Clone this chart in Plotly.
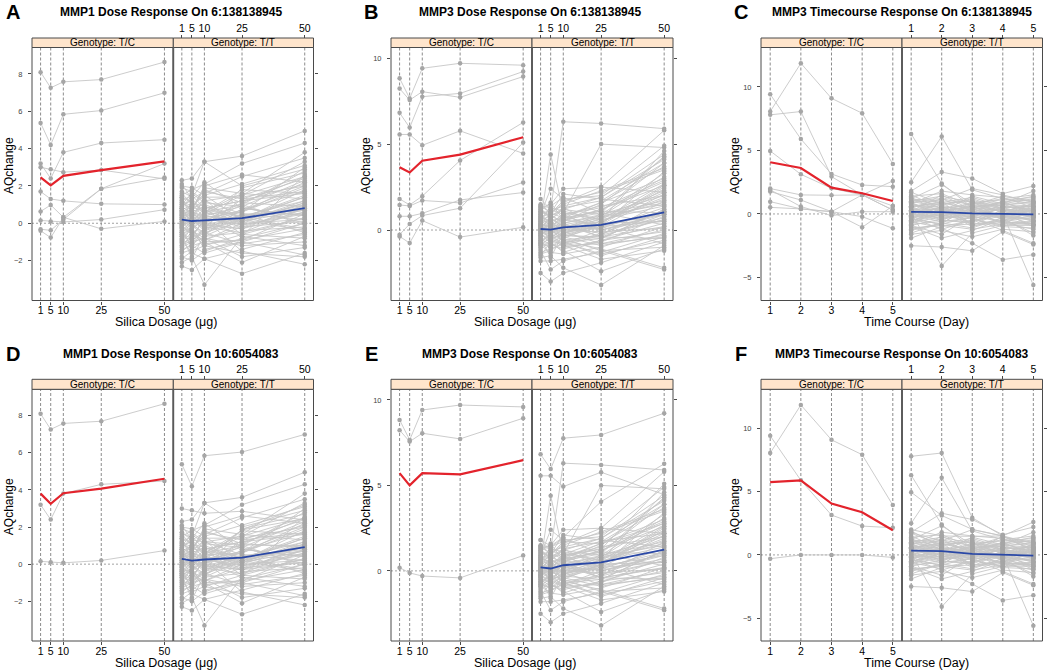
import plotly.graph_objects as go

W, H = 1050, 670
def fx(p): return p / W
def fy(p): return 1 - p / H

# ---------------- data ----------------
dose_levels = [1, 5, 10, 25, 50]
day_levels = [1, 2, 3, 4, 5]

# MMP1 dose response, SNP 6:138138945, genotype T/C (individual samples)
mmp1_tc_A = [
    [8.1, 7.26, 7.58, 7.7, 8.64],
    [5.38, 4.2, 5.84, 6.04, 6.99],
    [3.2, 2.4, 3.8, 4.3, 4.48],
    [3.0, 2.9, 2.74, 2.85, 2.38],
    [1.7, 1.3, 1.2, 1.04, 1.0],
    [0.63, 0.98, 0.32, 1.85, 2.45],
    [0.15, 0.1, 0.07, 0.2, 0.73],
    [-0.32, -0.38, 0.2, 1.85, 3.2],
    [-0.4, -0.77, 0.32, -0.3, 0.1],
]
# MMP1 dose response, genotype T/T samples (common cloud)
mmp1_tt_cloud = [
    [2.3, 2.4, 3.3, 3.6, 4.95], [1.5, 1.8, 2.1, 3.2, 4.3], [1.2, 0.9, 1.6, 2.5, 3.5],
    [0.8, 1.5, 3.3, 2.0, 2.9], [0.5, 0.2, -0.3, 1.9, 2.7], [1.9, 1.7, 1.2, 1.5, 2.5],
    [0.3, 0.6, 0.4, 0.9, 2.3], [-0.4, 0.1, 0.8, 1.2, 2.1], [1.0, 1.2, 0.5, 0.6, 1.9],
    [-0.8, -0.3, 0.2, 0.7, 1.7], [0.6, 0.3, 1.0, 0.3, 1.5], [-1.2, -0.9, -0.4, 0.2, 1.4],
    [0.1, -0.2, 0.6, 1.6, 1.3], [1.4, 1.1, 0.9, 0.1, 1.1], [-0.2, 0.4, -0.1, -0.3, 1.0],
    [0.4, 0.8, 1.8, 1.1, 0.9], [-1.5, -1.1, -0.7, -0.5, 0.8], [0.9, 0.5, 0.1, 0.4, 0.7],
    [-0.6, -0.8, 0.3, -0.1, 0.6], [0.2, 0.0, -0.6, 0.5, 0.5], [1.7, 1.4, 2.2, 0.8, 0.4],
    [-1.0, -0.5, -1.2, -0.6, 0.3], [0.7, 1.0, 0.7, 0.0, 0.2], [-0.1, -0.6, -0.9, -0.2, 0.1],
    [-1.8, -2.0, -1.5, -0.8, 0.0], [0.0, 0.3, 0.0, 1.0, -0.1], [1.1, 0.7, 1.3, -0.4, -0.2],
    [-0.3, -1.3, -0.2, 0.3, -0.3], [-2.1, -1.8, -3.3, -0.7, 2.6], [-0.9, -1.6, -1.9, -1.4, -0.5],
    [0.5, -0.1, -0.5, -1.1, -0.6], [-0.5, -0.4, -1.0, -2.1, -0.7], [-1.3, -1.0, -0.8, -1.8, -1.3],
    [-2.3, -2.5, -1.9, -2.7, -1.6], [-0.7, -0.2, -1.4, -1.0, -1.7], [0.3, -0.7, 0.2, -1.5, -2.2],
    [1.3, 0.6, 0.3, 0.6, 3.0], [-0.2, 0.2, 1.4, 1.4, 2.0], [0.6, 0.9, 0.6, 1.8, 1.6],
    [-0.4, -0.3, 0.4, 0.1, 1.2], [0.2, 0.5, -0.3, 0.2, 0.9], [1.0, 1.6, 1.1, 0.9, 0.0],
    [-0.1, 0.1, 0.0, -0.3, 0.6], [0.8, -0.1, -0.7, 0.2, 1.8], [-1.1, -0.8, -0.3, 0.5, 0.2],
    [0.1, 0.7, 2.0, 2.6, 2.2], [2.0, 1.9, 1.5, 0.2, -0.4], [-0.6, -1.9, -0.6, 0.8, 0.4],
    [0.4, 0.0, 0.8, -0.6, -0.8], [-1.4, -1.2, -1.0, -0.9, 0.5],
    [0.9, 1.3, 1.7, 1.3, 2.4], [-0.5, 0.0, 0.5, 1.5, 3.3], [1.6, 1.0, 0.3, -0.2, 0.8],
    [-1.6, -1.4, -0.9, 0.0, 1.1], [0.3, 0.9, 1.5, 2.1, 3.1], [-0.2, -0.6, 0.1, 0.6, 2.2],
    [1.2, 1.5, 0.8, 1.2, 1.6], [-0.9, -1.1, -0.2, -0.5, 0.3], [0.6, 0.1, -0.1, 0.4, 1.2],
    [0.0, -0.4, -0.8, -1.2, -1.0], [2.1, 1.3, 0.6, 1.0, 2.8], [-1.9, -1.5, -1.2, -1.6, -1.8],
    [0.7, 0.4, 1.2, 0.5, -0.5], [-0.3, 0.6, 0.9, 0.3, 1.4], [1.4, 0.2, -0.4, 0.7, 2.0],
    [-0.7, -0.9, -0.5, 0.1, 0.7], [0.2, 1.2, 0.6, -0.1, 0.5], [-1.2, -0.6, 0.1, 1.1, 2.5],
    [0.5, -0.3, -1.1, -0.9, -0.3], [1.1, 0.8, 1.9, 1.6, 3.8], [-0.1, 0.5, 0.2, -0.7, -1.2],
    [0.8, 0.0, 0.4, 0.2, 1.0], [-0.5, -1.2, -1.6, -1.0, 0.0], [0.4, 0.7, -0.2, 1.3, 1.7],
    [-1.0, -0.2, 0.7, 0.4, 0.8],
]
mmp1_tc_D_idx = [0, 2, 6]

# MMP3 dose response, SNP 6:138138945, genotype T/C
mmp3_tc_B = [
    [8.83, 7.66, 9.41, 9.7, 9.59],
    [8.23, 7.56, 8.05, 7.72, 8.93],
    [6.82, 5.96, 7.76, 7.95, 9.22],
    [5.56, 5.56, 4.93, 5.77, 4.46],
    [1.81, 1.46, 1.97, 4.05, 6.26],
    [1.46, 1.4, 1.72, 1.58, 2.77],
    [0.8, 0.8, 0.97, 1.75, 2.18],
    [-0.27, 0.35, 0.84, 1.27, 5.09],
    [-0.37, -0.76, 0.55, -0.41, 0.16],
]
mmp3_tc_E_extra = [0.19, -0.12, -0.3, -0.41, 0.9]
mmp3_tt_cloud = [
    [1.8, 1.2, 6.3, 6.2, 5.9], [0.5, 4.4, 1.0, 5.0, 4.8], [1.3, 1.5, 2.4, 2.5, 5.8],
    [0.9, 2.4, 1.8, 2.0, 4.9], [0.2, 0.6, 1.2, 1.9, 4.4], [1.1, 0.8, 0.5, 1.5, 4.2],
    [-0.3, 0.2, 0.7, 1.1, 3.9], [0.7, 1.0, 1.5, 2.3, 3.6], [-0.8, -0.5, 0.1, 0.9, 3.3],
    [0.4, 0.1, 0.9, 1.3, 2.9], [1.4, 1.3, 1.1, 0.6, 2.7], [-1.1, -0.7, -0.4, 0.4, 2.5],
    [0.0, 0.4, 0.3, 0.7, 2.3], [0.8, 0.5, 0.8, 0.2, 2.1], [-0.5, -0.9, -0.2, 0.5, 1.9],
    [0.3, -0.2, -0.6, -0.3, 1.7], [1.0, 0.9, 0.4, 0.8, 1.5], [-0.2, 0.0, 0.0, 0.1, 1.3],
    [0.6, 0.3, -0.3, -0.5, 1.2], [-1.3, -1.1, -0.8, 0.0, 1.0], [0.1, -0.3, 0.6, 0.3, 0.9],
    [-0.6, -0.4, -1.0, -0.7, 0.8], [1.2, 0.7, 0.2, -0.2, 0.6], [-0.1, 0.2, -0.5, 0.4, 0.5],
    [0.5, 1.4, 1.9, 1.0, 0.3], [-0.9, -1.3, -1.4, -1.0, 0.2], [0.2, -0.6, -0.1, -0.8, 0.0],
    [-1.8, -1.8, -1.7, -1.3, -0.2], [0.9, 0.1, -0.7, -1.5, -0.4], [-0.4, -0.1, 0.3, -0.4, -0.5],
    [-2.5, -3.0, -2.5, -1.9, -0.7], [-1.6, -1.5, -2.2, -3.2, -0.9], [0.3, -0.8, -1.2, -2.4, -1.1],
    [-0.7, -0.2, -0.9, -1.7, -1.2], [-1.2, -2.3, -1.8, -1.2, -2.3], [0.6, 0.8, 1.3, 0.2, -0.8],
    [-0.2, 0.5, 0.7, 1.6, 3.0], [0.1, -0.1, 0.4, 0.9, 2.0], [1.5, 1.0, 2.1, 1.8, 1.4],
    [-0.3, -0.5, -0.3, 0.3, 3.4], [0.4, 0.6, -0.8, -0.2, 1.1], [-0.8, -1.0, -0.6, -1.1, -2.2],
    [0.7, 0.3, 0.2, 0.6, 4.6], [0.0, -0.4, 0.9, 0.0, 0.7], [-1.5, -0.7, -1.3, -0.6, 0.4],
    [1.1, 1.6, 0.6, 1.2, 2.6], [-0.1, 0.9, 1.6, 2.5, 2.2], [0.2, 0.0, -0.4, -0.9, -0.3],
    [-0.5, -1.6, -0.2, 0.7, 1.6], [0.8, 0.4, 0.0, -0.1, 0.1],
    [0.3, 0.2, 0.8, 1.6, 3.7], [-0.6, -0.3, 0.5, 1.2, 2.8], [1.0, 1.1, 1.4, 1.9, 4.1],
    [0.1, 0.7, 0.2, 0.5, 1.8], [-1.0, -0.6, -0.9, -0.3, 0.6], [0.5, -0.1, 0.0, 0.8, 3.1],
    [-0.4, 0.3, 1.0, 0.6, 1.4], [1.3, 0.6, -0.2, 0.3, 2.4], [-0.2, -0.8, -1.1, -0.6, -0.1],
    [0.7, 1.2, 0.9, 1.4, 2.0], [-1.4, -1.2, -0.7, -0.5, 1.2], [0.2, 0.0, 0.6, 1.0, 4.3],
    [0.9, 0.4, -0.5, -1.2, -1.0], [-0.8, -0.2, 0.3, 0.0, 0.9], [0.4, 1.0, 1.7, 2.2, 3.5],
    [0.0, -0.5, -0.2, 0.4, 2.6], [-0.3, 0.1, -0.7, -1.4, -0.6], [1.2, 0.8, 1.2, 0.9, 1.7],
    [-0.7, -1.0, -0.4, 0.2, 1.1], [0.6, 0.0, 0.4, -0.4, 0.2], [-0.1, 0.6, 1.3, 1.7, 3.9],
    [0.3, -0.3, -0.9, -0.8, -0.4], [-0.9, -0.4, 0.0, 0.5, 2.2], [1.4, 1.0, 0.7, 1.1, 1.0],
    [0.1, 0.3, -0.1, 0.2, 0.5],
]

# MMP3 timecourse, SNP 6:138138945, genotype T/C
mmp3t_tc_C = [
    [9.42, 5.9, 3.15, 2.28, 2.15],
    [8.06, 11.86, 9.1, 7.93, 3.94],
    [7.8, 8.06, 2.94, 1.5, 0.63],
    [4.96, 3.12, 2.02, 1.5, 0.31],
    [2.0, 1.5, 1.47, 1.5, 2.6],
    [1.9, 0.58, -0.13, 0.18, 0.18],
    [1.76, 1.1, 0.18, -1.05, 0.63],
    [0.97, 0.4, 0.18, -0.21, -1.13],
    [0.52, 0.4, 0.18, 1.5, 0.31],
]
mmp3t_tc_F_extra = [-0.3, 0.0, 0.0, 0.0, -0.2]
mmp3t_tt_cloud = [
    [6.3, 2.4, 0.5, 0.2, -0.3], [2.5, 6.1, 1.9, 1.2, 0.8], [1.8, 3.3, 2.8, 1.6, 2.2],
    [1.2, 2.3, 0.8, 0.9, 1.4], [0.9, 1.1, 2.0, 1.5, 0.9], [0.6, 0.9, 0.3, 1.0, 1.1],
    [1.5, 0.4, -0.2, 0.5, 0.6], [0.3, 0.7, 1.2, 0.4, 0.2], [-0.2, 0.2, 0.6, 0.8, 1.8],
    [0.0, -0.3, 0.1, -0.2, 0.4], [1.0, 1.4, 0.9, 0.1, -0.5], [-0.5, -0.1, -0.6, 0.3, 0.0],
    [0.4, 0.0, 0.4, -0.4, -0.2], [-0.8, -0.6, -0.3, -0.1, 0.3], [0.7, 0.5, -0.8, -0.6, -0.8],
    [-1.1, -0.9, -1.2, -0.8, -0.6], [0.2, -0.4, 0.0, 0.6, 0.7], [-0.3, 0.6, -0.4, -1.0, -1.1],
    [1.3, 0.1, 0.7, 0.2, -0.1], [-1.6, -1.3, -1.8, -1.2, -1.4], [-2.5, -2.6, -2.9, -1.4, -2.4],
    [0.1, -4.1, -1.5, -0.9, -0.9], [-0.6, -1.1, -2.3, -3.6, -3.2], [0.5, -0.2, 0.2, 0.0, -5.6],
    [-1.3, -0.7, 0.5, 0.7, 1.0], [0.8, 1.8, 1.5, 1.3, 0.5], [-0.1, 0.3, -1.0, -0.3, -1.7],
    [-0.9, -1.6, -0.1, 0.4, 0.1], [1.7, 0.8, 1.0, -0.5, -0.3], [-0.4, -0.8, 0.9, 1.1, 1.3],
    [0.6, -0.5, -0.7, 0.1, -1.0], [-1.9, -1.0, -0.5, -0.2, -0.4], [1.1, 1.2, 0.2, -0.7, -0.6],
    [-0.2, -0.1, 0.3, 0.3, 0.2], [0.3, 0.4, -0.3, -1.3, -2.3], [-0.7, 0.2, 1.4, 0.8, -0.2],
    [0.9, -0.3, -0.2, 0.0, 0.6], [-1.0, -1.9, -1.3, -0.4, -0.8], [0.0, 0.5, 0.6, -0.3, 0.9],
    [0.5, 1.0, -0.9, -0.7, -1.2],
    [0.8, 0.3, 0.5, 0.9, 0.2], [-0.4, 0.6, 0.2, -0.2, -0.5], [1.2, 0.9, 1.3, 0.6, 0.4],
    [0.1, -0.5, -0.6, 0.2, 0.8], [-0.7, -0.2, 0.4, 0.5, -0.1], [0.5, 1.2, 0.7, 1.4, 1.0],
    [-1.2, -0.8, -0.2, -0.6, -0.9], [0.3, 0.1, -0.3, 0.8, 1.2], [1.0, 0.5, 0.0, -0.3, 0.3],
    [-0.2, -0.9, -0.8, -0.5, 0.1], [0.6, 0.8, 1.1, 0.3, -0.2], [-0.9, -0.4, 0.1, 0.0, 0.5],
    [0.2, 0.4, 0.8, 1.2, 1.5], [0.9, -0.1, -0.4, -0.9, -0.7], [-0.5, 0.1, -0.1, 0.4, -0.3],
    [1.4, 1.6, 0.6, 0.7, 0.9], [-1.5, -0.7, -1.1, -0.3, 0.0], [0.0, 0.9, 0.4, -0.1, -0.8],
    [0.7, 0.2, 0.9, 0.5, 0.6], [-0.3, -1.2, -0.5, 0.6, 0.3], [0.4, -0.2, 0.6, -0.4, -1.5],
    [-0.6, 0.5, -0.9, 0.2, 0.7], [1.1, 0.7, 0.1, 1.0, 0.0], [-0.1, -0.6, 1.0, 0.1, -0.6],
    [0.2, 1.5, 0.3, -0.8, 0.4],
]

# group means (red = T/C, blue = T/T)
mean_A_tc = [2.46, 2.03, 2.54, 2.85, 3.32]
mean_A_tt = [0.2, 0.12, 0.15, 0.27, 0.81]
mean_B_tc = [3.65, 3.35, 4.03, 4.39, 5.4]
mean_B_tt = [0.06, 0.02, 0.15, 0.3, 1.03]
mean_C_tc = [4.07, 3.62, 2.07, 1.63, 1.02]
mean_C_tt = [0.16, 0.15, 0.05, 0.03, -0.03]
mean_D_tc = [3.8, 3.25, 3.82, 4.07, 4.6]
mean_D_tt = [0.28, 0.19, 0.25, 0.35, 0.92]
mean_E_tc = [5.72, 5.0, 5.72, 5.65, 6.48]
mean_E_tt = [0.21, 0.14, 0.33, 0.5, 1.24]
mean_F_tc = [5.75, 5.9, 4.06, 3.37, 1.95]
mean_F_tt = [0.34, 0.3, 0.08, 0.0, -0.05]

# genotype groupings for the second SNP (10:6054083)
mmp1_tc_D = [mmp1_tc_A[i] for i in mmp1_tc_D_idx]
mmp1_tt_D = mmp1_tt_cloud + [l for i, l in enumerate(mmp1_tc_A) if i not in mmp1_tc_D_idx]
mmp3_tc_E = [mmp3_tc_B[0], mmp3_tc_B[1], mmp3_tc_E_extra]
mmp3_tt_B = mmp3_tt_cloud + [mmp3_tc_E_extra]
mmp3_tt_E = mmp3_tt_cloud + mmp3_tc_B[2:]
mmp3t_tc_F = [mmp3t_tc_C[0], mmp3t_tc_C[1], mmp3t_tc_F_extra]
mmp3t_tt_C = mmp3t_tt_cloud + [mmp3t_tc_F_extra]
mmp3t_tt_F = mmp3t_tt_cloud + mmp3t_tc_C[2:]

dose_title = "Silica Dosage (\u03bcg)"
time_title = "Time Course (Day)"

panels = [
    dict(letter="A", title="MMP1 Dose Response On 6:138138945", x=dose_levels,
         tc=mmp1_tc_A, tt=mmp1_tt_cloud, mtc=mean_A_tc, mtt=mean_A_tt,
         yr=[-4.14, 9.42], yt=[-2, 0, 2, 4, 6, 8], xr=[-2.4, 53.5], xt=dose_title, col=0, row=0),
    dict(letter="B", title="MMP3 Dose Response On 6:138138945", x=dose_levels,
         tc=mmp3_tc_B, tt=mmp3_tt_B, mtc=mean_B_tc, mtt=mean_B_tt,
         yr=[-4.1, 10.62], yt=[0, 5, 10], xr=[-2.4, 53.5], xt=dose_title, col=1, row=0),
    dict(letter="C", title="MMP3 Timecourse Response On 6:138138945", x=day_levels,
         tc=mmp3t_tc_C, tt=mmp3t_tt_C, mtc=mean_C_tc, mtt=mean_C_tt,
         yr=[-6.81, 13.1], yt=[-5, 0, 5, 10], xr=[0.7, 5.3], xt=time_title, col=2, row=0),
    dict(letter="D", title="MMP1 Dose Response On 10:6054083", x=dose_levels,
         tc=mmp1_tc_D, tt=mmp1_tt_D, mtc=mean_D_tc, mtt=mean_D_tt,
         yr=[-4.14, 9.42], yt=[-2, 0, 2, 4, 6, 8], xr=[-2.4, 53.5], xt=dose_title, col=0, row=1),
    dict(letter="E", title="MMP3 Dose Response On 10:6054083", x=dose_levels,
         tc=mmp3_tc_E, tt=mmp3_tt_E, mtc=mean_E_tc, mtt=mean_E_tt,
         yr=[-4.1, 10.62], yt=[0, 5, 10], xr=[-2.4, 53.5], xt=dose_title, col=1, row=1),
    dict(letter="F", title="MMP3 Timecourse Response On 10:6054083", x=day_levels,
         tc=mmp3t_tc_F, tt=mmp3t_tt_F, mtc=mean_F_tc, mtt=mean_F_tt,
         yr=[-6.81, 13.1], yt=[-5, 0, 5, 10], xr=[0.7, 5.3], xt=time_title, col=2, row=1),
]

# ---------------- layout geometry (pixels) ----------------
cols = [(32, 173.3, 313.5), (391, 532, 673), (761, 902, 1042.5)]
rows = [dict(st=38, sb=47.5, pb=300.5), dict(st=379.3, sb=389.3, pb=641)]
title_x = [171, 530, 902]
letter_x = [13, 371, 741]
xtitle_x = [166, 525, 916]
ytitle_x = [9, 366, 735]

FONT = "Liberation Sans, Arial, sans-serif"
GREY_LINE = "#c6c6c6"
GREY_PT = "#a6a6a6"
BORDER = "#4a4a4a"
RED = "#e3232c"
BLUE = "#2a48a6"

fig = go.Figure()
layout = dict(width=W, height=H, autosize=False, margin=dict(l=0, r=0, t=0, b=0),
              paper_bgcolor="white", plot_bgcolor="white", showlegend=False,
              font=dict(family=FONT, color="black"))
shapes, annotations = [], []

def lines_to_xy(xs, lines):
    X, Y = [], []
    for l in lines:
        X += list(xs) + [None]
        Y += list(l) + [None]
    return X, Y

for i, p in enumerate(panels):
    c = cols[p["col"]]
    r = rows[p["row"]]
    for g in range(2):
        k = 2 * i + g + 1
        xs = "" if k == 1 else str(k)
        left, right = (c[0], c[1]) if g == 0 else (c[1], c[2])
        lines = p["tc"] if g == 0 else p["tt"]
        X, Y = lines_to_xy(p["x"], lines)
        fig.add_trace(go.Scatter(x=X, y=Y, mode="lines+markers", xaxis="x" + xs, yaxis="y" + xs,
                                 line=dict(color=GREY_LINE, width=0.9),
                                 marker=dict(color=GREY_PT, size=4.5, line=dict(width=0)),
                                 hoverinfo="skip", connectgaps=False))
        fig.add_trace(go.Scatter(x=p["x"], y=p["mtc"] if g == 0 else p["mtt"], mode="lines",
                                 xaxis="x" + xs, yaxis="y" + xs,
                                 line=dict(color=RED if g == 0 else BLUE, width=2.2 if g == 0 else 1.8)))
        xa = dict(domain=[fx(left), fx(right)], range=p["xr"], tickvals=p["x"],
                  ticktext=[str(v) for v in p["x"]], showgrid=False, zeroline=False, showline=False,
                  ticks="outside", ticklen=3, tickcolor=BORDER, tickwidth=1,
                  tickfont=dict(size=10.5, color="black", family=FONT))
        if g == 0:
            xa.update(side="bottom", anchor="y" + xs, ticklabelstandoff=-3)
        else:
            xa.update(side="top", anchor="free", position=fy(r["st"]), ticklabelstandoff=-1)
        ya = dict(domain=[fy(r["pb"]), fy(r["sb"])], range=p["yr"], tickvals=p["yt"],
                  ticktext=[str(v).replace("-", "\u2212") for v in p["yt"]],
                  showgrid=False, zeroline=False, showline=False, anchor="x" + xs,
                  ticks="outside", ticklen=3, tickcolor=BORDER, tickwidth=1,
                  tickfont=dict(size=7.5, color="#444", family=FONT), ticklabelstandoff=4)
        if g == 0:
            ya.update(side="left")
        else:
            ya.update(side="right", showticklabels=False)
        layout["xaxis" + xs] = xa
        layout["yaxis" + xs] = ya
        # reference lines
        for v in p["x"]:
            shapes.append(dict(type="line", xref="x" + xs, yref="y" + xs + " domain",
                               x0=v, x1=v, y0=0, y1=1, layer="below",
                               line=dict(color="#6e6e6e", width=0.8, dash="3px,2px")))
        shapes.append(dict(type="line", xref="x" + xs + " domain", yref="y" + xs,
                           x0=0, x1=1, y0=0, y1=0, layer="below",
                           line=dict(color="#8a8a8a", width=0.8, dash="2px,2px")))
        # panel border and strip
        shapes.append(dict(type="rect", xref="paper", yref="paper", x0=fx(left), x1=fx(right),
                           y0=fy(r["pb"]), y1=fy(r["sb"]), layer="above",
                           line=dict(color=BORDER, width=1), fillcolor="rgba(0,0,0,0)"))
        shapes.append(dict(type="rect", xref="paper", yref="paper", x0=fx(left), x1=fx(right),
                           y0=fy(r["sb"]), y1=fy(r["st"]), layer="above",
                           line=dict(color=BORDER, width=1), fillcolor="#ffe5cc"))
        annotations.append(dict(xref="paper", yref="paper", x=fx((left + right) / 2),
                                y=fy((r["st"] + r["sb"]) / 2), text="Genotype: " + ("T/C" if g == 0 else "T/T"),
                                showarrow=False, xanchor="center", yanchor="middle",
                                font=dict(size=10, color="black", family=FONT)))
    # divider
    shapes.append(dict(type="line", xref="paper", yref="paper", x0=fx(c[1]), x1=fx(c[1]),
                       y0=fy(r["pb"]), y1=fy(r["sb"]), layer="above",
                       line=dict(color="#5a5a5a", width=1.8)))
    ty = r["st"] - 25.5
    annotations.append(dict(xref="paper", yref="paper", x=fx(letter_x[p["col"]]), y=fy(ty),
                            text="<b>" + p["letter"] + "</b>", showarrow=False,
                            xanchor="center", yanchor="middle",
                            font=dict(size=20, color="black", family=FONT)))
    annotations.append(dict(xref="paper", yref="paper", x=fx(title_x[p["col"]]), y=fy(ty),
                            text="<b>" + p["title"] + "</b>", showarrow=False,
                            xanchor="center", yanchor="middle",
                            font=dict(size=12, color="black", family=FONT)))
    annotations.append(dict(xref="paper", yref="paper", x=fx(xtitle_x[p["col"]]), y=fy(r["pb"] + 21.5),
                            text=p["xt"], showarrow=False, xanchor="center", yanchor="middle",
                            font=dict(size=12.5, color="black", family=FONT)))
    annotations.append(dict(xref="paper", yref="paper", x=fx(ytitle_x[p["col"]]),
                            y=fy((r["sb"] + r["pb"]) / 2 - 8), text="AQchange", textangle=-90,
                            showarrow=False, xanchor="center", yanchor="middle",
                            font=dict(size=12, color="black", family=FONT)))

layout["shapes"] = shapes
layout["annotations"] = annotations
fig.update_layout(**layout)
fig.write_html("out.html", config={"displayModeBar": False, "staticPlot": True},
               post_script="document.body.style.margin='0';document.body.style.overflow='hidden';")
